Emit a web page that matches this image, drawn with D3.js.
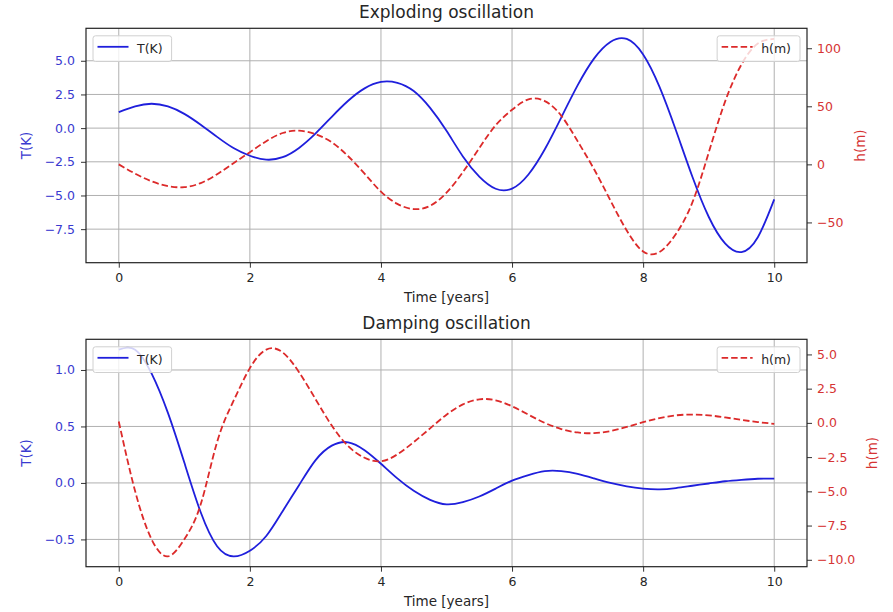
<!DOCTYPE html>
<html>
<head>
<meta charset="utf-8">
<script src="https://cdn.jsdelivr.net/npm/d3@7/dist/d3.min.js"></script>
<style>
  body { margin: 0; background: #fff; }
  svg { display: block; font-family: "DejaVu Sans", sans-serif; }
</style>
</head>
<body>
<svg id="chart" width="893" height="612"></svg>
<script>
// time axis (years), shared by both runs
const years = [0, 0.25, 0.5, 0.75, 1, 1.25, 1.5, 1.75, 2, 2.25, 2.5, 2.75, 3, 3.25, 3.5, 3.75,
  4, 4.25, 4.5, 4.75, 5, 5.25, 5.5, 5.75, 6, 6.25, 6.5, 6.75, 7, 7.25, 7.5, 7.75,
  8, 8.25, 8.5, 8.75, 9, 9.25, 9.5, 9.75, 10];

// exploding run
const explodingT = [1.19, 1.62, 1.81, 1.61, 1.06, 0.25, -0.65, -1.48, -2.05, -2.34, -2.16, -1.47,
  -0.41, 0.84, 2.03, 2.95, 3.43, 3.36, 2.75, 1.5, -0.2, -2.1, -3.6, -4.5, -4.49, -3.44, -1.57,
  0.78, 3.17, 5.16, 6.4, 6.62, 5.47, 3.06, -0.16, -3.59, -6.58, -8.56, -9.2, -8.1, -5.29];
const explodingH = [0, -8, -14.6, -18.7, -19.6, -16.1, -8.5, 1, 10.5, 20, 27, 29, 26, 19, 7, -8,
  -23.5, -34, -38.5, -35.7, -24.4, -6.7, 14, 33.7, 47, 56, 54.5, 42, 20, -4, -31, -57,
  -75, -75.5, -60, -33, 10, 54, 86, 104, 108];

// damping run
const dampingT = [1.18, 1.18, 0.97, 0.62, 0.18, -0.26, -0.56, -0.65, -0.6, -0.47, -0.25, -0.02,
  0.2, 0.33, 0.36, 0.29, 0.17, 0.04, -0.07, -0.15, -0.19, -0.17, -0.12, -0.05, 0.02, 0.07,
  0.105, 0.105, 0.08, 0.04, 0, -0.03, -0.05, -0.057, -0.045, -0.025, -0.005, 0.015, 0.028, 0.037, 0.039];
const dampingH = [0.1, -5, -8.5, -9.75, -8.5, -5.95, -1.4, 1.6, 4, 5.35, 5.15, 3.7, 1.75, -0.2, -1.7,
  -2.55, -2.8, -2.3, -1.4, -0.4, 0.6, 1.35, 1.72, 1.65, 1.21, 0.6, 0, -0.45, -0.7, -0.75, -0.6,
  -0.3, 0.05, 0.35, 0.55, 0.61, 0.55, 0.4, 0.22, 0.06, -0.07];

// tick labels
const yearTicks = [0, 2, 4, 6, 8, 10];
const explodingTTicks = [-7.5, -5, -2.5, 0, 2.5, 5];
const explodingHTicks = [-50, 0, 50, 100];
const dampingTTicks = [-0.5, 0, 0.5, 1];
const dampingHTicks = [-10, -7.5, -5, -2.5, 0, 2.5, 5];

class OscillationPanel {

  constructor(_config, _temp, _height) {
    this.config = {
      parentElement: _config.parentElement,
      title: _config.title,
      top: _config.top,
      bottom: _config.bottom,
      left: 86,
      right: 807,
      tTicks: _config.tTicks,
      hTicks: _config.hTicks,
      tFormat: _config.tFormat,
      hFormat: _config.hFormat,
      blue: '#1f1fdc',
      red: '#dc2a2a',
      blueText: '#3a3ad0',
      redText: '#d63434',
      textColor: '#262626'
    };
    this.temp = _temp;
    this.height = _height;
    this.initVis();
  }

  initVis() {
    let vis = this;
    const c = vis.config;

    vis.g = d3.select(c.parentElement).append('g');

    vis.xScale = d3.scaleLinear().domain([-0.5, 10.5]).range([c.left, c.right]);

    // matplotlib style 5% margins
    const pad = ext => {
      const m = (ext[1] - ext[0]) * 0.05;
      return [ext[0] - m, ext[1] + m];
    };
    vis.tScale = d3.scaleLinear().domain(pad(d3.extent(vis.temp))).range([c.bottom, c.top]);
    vis.hScale = d3.scaleLinear().domain(pad(d3.extent(vis.height))).range([c.bottom, c.top]);

    vis.renderVis();
  }

  renderVis() {
    let vis = this;
    const c = vis.config;
    const minus = d => d.replace('-', '\u2212');

    // grid
    const grid = vis.g.append('g').attr('stroke', '#b0b0b0').attr('stroke-width', 1);
    grid.selectAll('.vgrid')
        .data(yearTicks)
      .join('line')
        .attr('class', 'vgrid')
        .attr('x1', d => vis.xScale(d)).attr('x2', d => vis.xScale(d))
        .attr('y1', c.top).attr('y2', c.bottom);
    grid.selectAll('.hgrid')
        .data(c.tTicks)
      .join('line')
        .attr('class', 'hgrid')
        .attr('x1', c.left).attr('x2', c.right)
        .attr('y1', d => vis.tScale(d)).attr('y2', d => vis.tScale(d));

    // axes
    const xAxis = d3.axisBottom(vis.xScale).tickValues(yearTicks).tickSize(5).tickPadding(5).tickFormat(d3.format('d'));
    const tAxis = d3.axisLeft(vis.tScale).tickValues(c.tTicks).tickSize(5).tickPadding(6)
        .tickFormat(d => minus(d3.format(c.tFormat)(d)));
    const hAxis = d3.axisRight(vis.hScale).tickValues(c.hTicks).tickSize(5).tickPadding(5)
        .tickFormat(d => minus(d3.format(c.hFormat)(d)));

    const styleAxis = (sel, color) => {
      sel.select('.domain').remove();
      sel.selectAll('line').attr('stroke', '#333');
      sel.selectAll('text').attr('fill', color).style('font-size', '12.5px')
          .style('font-family', '"DejaVu Sans", sans-serif');
    };

    vis.g.append('g').attr('transform', `translate(0,${c.bottom})`).call(xAxis)
        .call(s => styleAxis(s, c.textColor));
    vis.g.append('g').attr('transform', `translate(${c.left},0)`).call(tAxis)
        .call(s => styleAxis(s, c.blueText));
    const hAxisG = vis.g.append('g').attr('transform', `translate(${c.right},0)`).call(hAxis)
        .call(s => styleAxis(s, c.redText));
    const hBox = hAxisG.node().getBBox();
    const hLabelX = c.right + hBox.x + hBox.width + 22;

    // lines
    const tLine = d3.line().x((d, i) => vis.xScale(years[i])).y(d => vis.tScale(d)).curve(d3.curveNatural);
    const hLine = d3.line().x((d, i) => vis.xScale(years[i])).y(d => vis.hScale(d)).curve(d3.curveNatural);

    vis.g.append('path')
        .datum(vis.temp)
        .attr('fill', 'none')
        .attr('stroke', c.blue)
        .attr('stroke-width', 1.8)
        .attr('d', tLine);
    vis.g.append('path')
        .datum(vis.height)
        .attr('fill', 'none')
        .attr('stroke', c.red)
        .attr('stroke-width', 1.8)
        .attr('stroke-dasharray', '6.5,3')
        .attr('d', hLine);

    // frame
    vis.g.append('rect')
        .attr('x', c.left).attr('y', c.top)
        .attr('width', c.right - c.left).attr('height', c.bottom - c.top)
        .attr('fill', 'none').attr('stroke', '#222').attr('stroke-width', 1.2);

    // title + labels
    vis.g.append('text')
        .attr('x', (c.left + c.right) / 2).attr('y', c.top - 10.5)
        .attr('text-anchor', 'middle').attr('fill', c.textColor)
        .style('font-size', '17px')
        .text(c.title);
    vis.g.append('text')
        .attr('x', (c.left + c.right) / 2).attr('y', c.bottom + 39)
        .attr('text-anchor', 'middle').attr('fill', c.textColor)
        .style('font-size', '13.5px')
        .text('Time [years]');

    const midY = (c.top + c.bottom) / 2;
    vis.g.append('text')
        .attr('transform', `translate(31,${midY}) rotate(-90)`)
        .attr('text-anchor', 'middle').attr('fill', c.blueText)
        .style('font-size', '13.5px')
        .text('T(K)');
    vis.g.append('text')
        .attr('transform', `translate(${hLabelX},${midY}) rotate(-90)`)
        .attr('text-anchor', 'middle').attr('fill', c.redText)
        .style('font-size', '13.5px')
        .text('h(m)');

    vis.renderLegend('T(K)', c.blue, null, c.left + 7, 'start');
    vis.renderLegend('h(m)', c.red, '6.5,3', c.right - 7, 'end');
  }

  renderLegend(label, color, dash, xEdge, side) {
    let vis = this;
    const c = vis.config;
    const boxH = 25.7;
    const y = c.top + 7.5;

    const lg = vis.g.append('g').attr('class', 'legend');
    const box = lg.append('rect')
        .attr('y', y).attr('height', boxH)
        .attr('rx', 2.5)
        .attr('fill', 'white').attr('fill-opacity', 0.8)
        .attr('stroke', '#d0d0d0').attr('stroke-width', 1);
    const txt = lg.append('text')
        .attr('y', y + boxH / 2)
        .attr('dominant-baseline', 'central')
        .attr('fill', c.textColor)
        .style('font-size', '12.5px')
        .text(label);
    const w = 44 + txt.node().getComputedTextLength() + 9;
    const x0 = side === 'start' ? xEdge : xEdge - w;
    box.attr('x', x0).attr('width', w);
    txt.attr('x', x0 + 44);
    lg.append('line')
        .attr('x1', x0 + 4.5).attr('x2', x0 + 35.5)
        .attr('y1', y + 11).attr('y2', y + 11)
        .attr('stroke', color).attr('stroke-width', 1.8)
        .attr('stroke-dasharray', dash);
  }
}

new OscillationPanel({
  parentElement: '#chart', title: 'Exploding oscillation', top: 28.3, bottom: 262.7,
  tTicks: explodingTTicks, hTicks: explodingHTicks, tFormat: '.1f', hFormat: 'd'
}, explodingT, explodingH);

new OscillationPanel({
  parentElement: '#chart', title: 'Damping oscillation', top: 339.3, bottom: 566.7,
  tTicks: dampingTTicks, hTicks: dampingHTicks, tFormat: '.1f', hFormat: '.1f'
}, dampingT, dampingH);
</script>
</body>
</html>
